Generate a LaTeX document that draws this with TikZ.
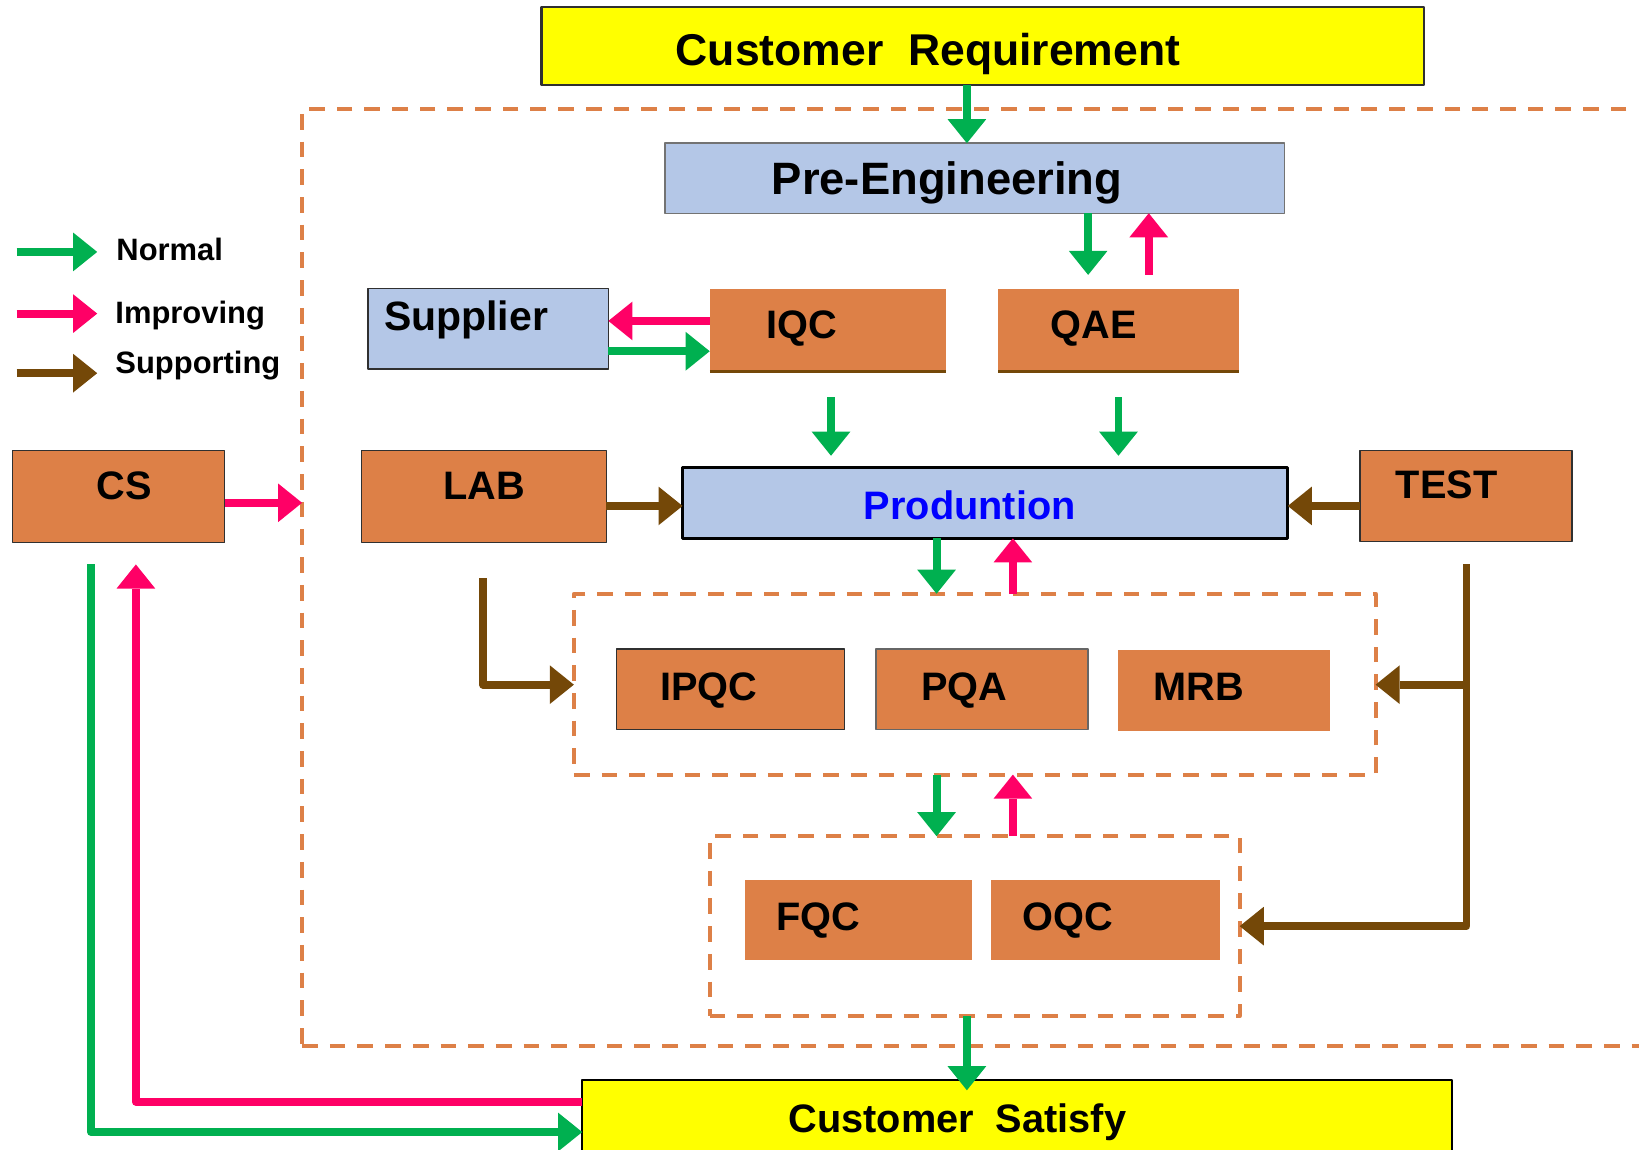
\documentclass[tikz,border=0pt]{standalone}
\usepackage{fontspec}
\setmainfont{Liberation Sans}
\usetikzlibrary{arrows.meta,calc,fit}
\definecolor{cgreen}{HTML}{00B050}
\definecolor{cpink}{HTML}{FF0066}
\definecolor{cbrown}{HTML}{744808}
\definecolor{corange}{HTML}{DD8047}
\definecolor{cblue}{HTML}{B4C7E7}
\definecolor{cyellow}{HTML}{FFFF00}
\definecolor{cedge}{HTML}{303030}
\begin{document}
\begin{tikzpicture}[x=0.5pt,y=-0.5pt,line join=round,
  bx/.style={inner sep=0pt,outer sep=0pt},
  obox/.style={bx,fill=corange},
  obord/.style={obox,draw=cedge,line width=0.7pt},
  bbox/.style={bx,fill=cblue,draw=cedge,line width=0.7pt},
  ybox/.style={bx,fill=cyellow,draw=cedge,line width=1.1pt},
  dbox/.style={bx,draw=corange,line width=1.9pt,dash pattern=on 7.5pt off 5.75pt},
  lbl/.style={inner sep=0pt,anchor=base west,font=\bfseries\fontsize{19}{22}\selectfont},
  big/.style={lbl,font=\bfseries\fontsize{21.3}{25}\selectfont},
  leg/.style={lbl,font=\bfseries\fontsize{14.8}{17}\selectfont},
  ar/.style={line width=3.75pt,-{Triangle[length=11.5pt,width=18.5pt,line width=0pt]}},
  gar/.style={ar,draw=cgreen},
  par/.style={ar,draw=cpink},
  brar/.style={ar,draw=cbrown}]
\useasboundingbox (0,0) rectangle (1568,1100);

% dashed regions
\node[dbox,fit={(289,104)(1640,1001)}] (outer) {};
\node[dbox,fit={(549,568)(1316,741)}] (in1) {};
\node[dbox,fit={(679,800)(1186,972)}] (in2) {};

% boxes
\node[ybox,fit={(518,7)(1362,81)}] (cr) {};
\node[bbox,draw=black!55,fit={(636,137)(1229,204)}] (pe) {};
\node[bbox,fit={(352,276)(582,353)}] (sup) {};
\node[obox,fit={(679,276)(905,355)}] (iqc) {};
\node[obox,fit={(955,276)(1185,355)}] (qae) {};
\node[obord,fit={(12,431)(215,519)}] (cs) {};
\node[obord,fit={(346,431)(580,519)}] (lab) {};
\node[bbox,draw=black,line width=1.4pt,fit={(653,447)(1232,515)}] (prod) {};
\node[obord,fit={(1301,431)(1504,518)}] (test) {};
\node[obord,fit={(590,621)(808,698)}] (ipqc) {};
\node[obord,draw=black!60,fit={(838,621)(1041,698)}] (pqa) {};
\node[obox,fit={(1070,622)(1272,699)}] (mrb) {};
\node[obox,fit={(713,842)(930,918)}] (fqc) {};
\node[obox,fit={(948,842)(1167,918)}] (oqc) {};
\node[ybox,draw=black,fit={(557,1033)(1389,1120)}] (csat) {};

\draw[cbrown,line width=1.5pt] (iqc.south west) -- (iqc.south east);
\draw[cbrown,line width=1.5pt] (qae.south west) -- (qae.south east);

% texts
\node[big] (t-cr) at (646,63) {Customer~~Requirement};
\node[big,font=\bfseries\fontsize{21.7}{25}\selectfont] (t-pe) at (738,186) {Pre-Engineering};
\node[lbl,font=\bfseries\fontsize{19.6}{22}\selectfont] (t-sup) at (367,316) {Supplier};
\node[lbl] (t-iqc) at (733,324) {IQC};
\node[lbl] (t-qae) at (1005,324) {QAE};
\node[lbl] (t-cs) at (92,478) {CS};
\node[lbl] (t-lab) at (424,478) {LAB};
\node[lbl,text=blue] (t-prod) at (826,497) {Produntion};
\node[lbl] (t-test) at (1335,477) {TEST};
\node[lbl] (t-ipqc) at (631,670) {IPQC};
\node[lbl] (t-pqa) at (881,670) {PQA};
\node[lbl] (t-mrb) at (1103,670) {MRB};
\node[lbl] (t-fqc) at (742,890) {FQC};
\node[lbl] (t-oqc) at (978,890) {OQC};
\node[lbl] (t-csat) at (754,1083) {Customer~~Satisfy};

% legend
\node[leg] (l-n) at (111,249) {Normal};
\node[leg] (l-i) at (110,309) {Improving};
\node[leg] (l-s) at (110,357) {Supporting};
\coordinate (lg1) at (16,241);
\coordinate (lg2) at (16,300);
\coordinate (lg3) at (16,357);
\draw[gar] (lg1) -- ++(77,0);
\draw[par] (lg2) -- ++(77,0);
\draw[brar] (lg3) -- ++(77,0);

% connectors
\draw[gar] (cr.south -| 925,0) -- (pe.north -| 925,0);
\draw[gar] (pe.south -| 1041,0) -- ($(qae.north -| 1041,0)+(0,-13)$);
\draw[par] ($(qae.north -| 1099,0)+(0,-13)$) -- (pe.south -| 1099,0);
\draw[par] (iqc.west |- 0,307) -- (sup.east |- 0,307);
\draw[gar] (sup.east |- 0,336) -- (iqc.west |- 0,336);
\draw[gar] ($(iqc.south -| 795,0)+(0,25)$) -- ($(prod.north -| 795,0)+(0,-11)$);
\draw[gar] ($(qae.south -| 1070,0)+(0,25)$) -- ($(prod.north -| 1070,0)+(0,-11)$);
\draw[par] (cs.east |- 0,481) -- (outer.west |- 0,481);
\draw[brar] (lab.east |- 0,484) -- (prod.west |- 0,484);
\draw[brar] (test.west |- 0,484) -- (prod.east |- 0,484);
\draw[gar] (prod.south -| 896,0) -- (in1.north -| 896,0);
\draw[par] (in1.north -| 969,0) -- (prod.south -| 969,0);
\draw[brar] ($(lab.south -| 462,0)+(0,34)$) |- (in1.west |- 0,655);
\coordinate (tb) at ($(test.south -| 1403,0)+(0,22)$);
\draw[brar] (tb) |- (in2.east |- 0,886);
\draw[brar] (tb |- 0,655) -- (in1.east |- 0,655);
\draw[gar] (in1.south -| 896,0) -- (in2.north -| 896,0);
\draw[par] (in2.north -| 969,0) -- (in1.south -| 969,0);
\draw[gar] (in2.south -| 925,0) -- ($(csat.north -| 925,0)+(0,10)$);
\draw[par] (csat.west |- 0,1054) -| ($(cs.south -| 130,0)+(0,21)$);
\draw[gar] ($(cs.south -| 87,0)+(0,21)$) |- (csat.west |- 0,1083);
\end{tikzpicture}
\end{document}
